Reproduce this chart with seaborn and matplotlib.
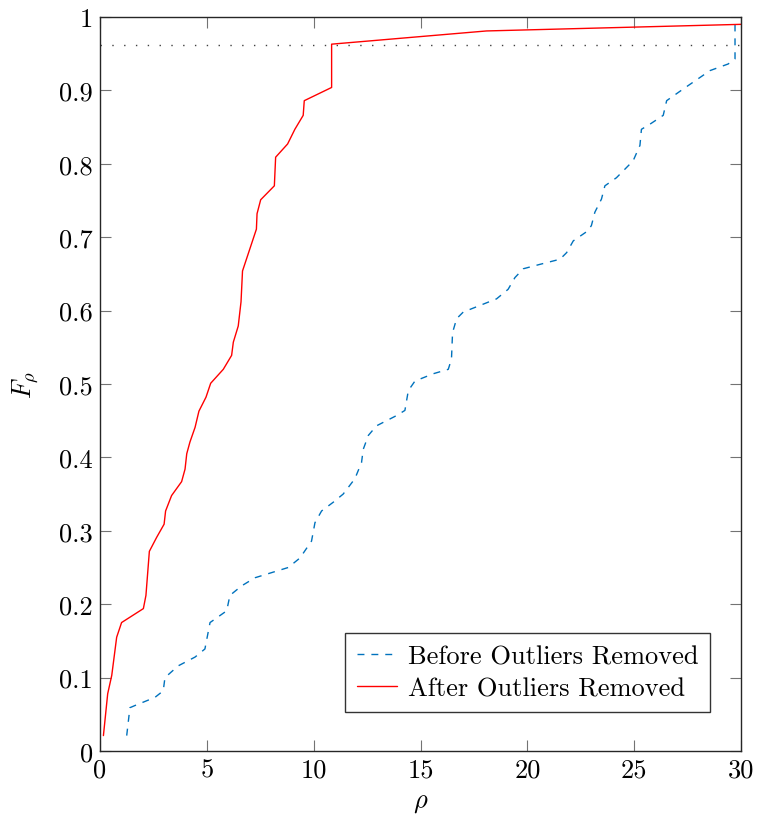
import matplotlib
matplotlib.use("Agg")
import matplotlib.pyplot as plt
import seaborn as sns
import pandas as pd

# ---- data ----
after_x = [0.16, 0.36, 0.55, 0.78, 1.01, 2.03, 2.15, 2.31, 2.65, 3.00, 3.07, 3.35, 3.82,
           3.98, 4.06, 4.21, 4.45, 4.63, 4.96, 5.18, 5.77, 6.16, 6.24, 6.47, 6.60, 6.67,
           7.32, 7.35, 7.52, 8.16, 8.22, 8.78, 9.12, 9.51, 9.56, 10.84, 10.84, 18.09, 30.0]
after_y = [0.021, 0.078, 0.103, 0.155, 0.175, 0.194, 0.212, 0.272, 0.291, 0.309, 0.327,
           0.348, 0.367, 0.384, 0.405, 0.421, 0.441, 0.463, 0.482, 0.501, 0.520, 0.539,
           0.557, 0.579, 0.612, 0.654, 0.711, 0.732, 0.751, 0.770, 0.809, 0.827, 0.847,
           0.866, 0.886, 0.904, 0.963, 0.981, 0.990]

before_x = [1.25, 1.40, 1.64, 2.57, 2.96, 3.04, 3.66, 4.45, 4.91, 5.15, 5.93, 6.08, 6.63,
            7.25, 8.81, 9.36, 9.90, 10.06, 10.37, 10.92, 11.38, 11.93, 12.24, 12.32, 12.56,
            12.94, 13.88, 14.27, 14.43, 14.74, 15.60, 16.30, 16.45, 16.50, 16.69, 17.0,
            17.78, 18.56, 19.10, 19.42, 19.81, 20.59, 21.53, 21.84, 22.15, 22.85, 23.0,
            23.16, 23.47, 23.63, 24.17, 24.95, 25.27, 25.34, 25.74, 26.36, 26.52, 27.30,
            28.55, 29.40, 29.72, 29.72]
before_y = [0.021, 0.059, 0.062, 0.073, 0.082, 0.100, 0.116, 0.128, 0.139, 0.175, 0.191,
            0.212, 0.225, 0.236, 0.250, 0.263, 0.286, 0.311, 0.327, 0.339, 0.350, 0.371,
            0.393, 0.411, 0.430, 0.443, 0.457, 0.464, 0.491, 0.504, 0.514, 0.520, 0.534,
            0.570, 0.589, 0.598, 0.607, 0.616, 0.629, 0.645, 0.657, 0.663, 0.670, 0.679,
            0.695, 0.709, 0.716, 0.734, 0.752, 0.770, 0.781, 0.804, 0.825, 0.847, 0.854,
            0.866, 0.886, 0.902, 0.927, 0.936, 0.943, 0.997]

threshold = 0.962

x_ticks = [0, 5, 10, 15, 20, 25, 30]
x_tick_labels = ["0", "5", "10", "15", "20", "25", "30"]
y_ticks = [0, 0.1, 0.2, 0.3, 0.4, 0.5, 0.6, 0.7, 0.8, 0.9, 1.0]
y_tick_labels = ["0", "0.1", "0.2", "0.3", "0.4", "0.5", "0.6", "0.7", "0.8", "0.9", "1"]

label_before = "Before Outliers Removed"
label_after = "After Outliers Removed"

# ---- style ----
sns.set_style("white")
plt.rcParams["font.family"] = ["cmr10", "DejaVu Serif"]
plt.rcParams["mathtext.fontset"] = "cm"
plt.rcParams["axes.unicode_minus"] = False
plt.rcParams["axes.formatter.use_mathtext"] = True
plt.rcParams["text.color"] = "black"
plt.rcParams["axes.labelcolor"] = "black"
plt.rcParams["xtick.labelcolor"] = "black"
plt.rcParams["ytick.labelcolor"] = "black"

FS = 19

fig = plt.figure(figsize=(7.59, 8.20), dpi=100)
ax = fig.add_axes([100 / 759, 1 - 752 / 820, 641 / 759, 734 / 820])

df_before = pd.DataFrame({"x": before_x, "y": before_y})
df_after = pd.DataFrame({"x": after_x, "y": after_y})

sns.lineplot(data=df_before, x="x", y="y", ax=ax, sort=False, estimator=None,
             color="#0072BD", linewidth=1.0, label=label_before)
ax.lines[-1].set_dashes([5, 5])
sns.lineplot(data=df_after, x="x", y="y", ax=ax, sort=False, estimator=None,
             color="#FF0000", linewidth=1.0, label=label_after)

ax.axhline(threshold, color="0.25", linewidth=1.0, dashes=(1, 7.5), zorder=1)

ax.set_xlim(0, 30)
ax.set_ylim(0, 1)
ax.set_xticks(x_ticks)
ax.set_xticklabels(x_tick_labels, fontsize=FS, color="black")
ax.set_yticks(y_ticks)
ax.set_yticklabels(y_tick_labels, fontsize=FS, color="black")
ax.tick_params(direction="in", length=8, width=0.8, color="0.45",
               top=True, right=True, bottom=True, left=True, pad=5)

ax.set_xlabel(r"$\rho$", fontsize=FS, labelpad=6, color="black")
ax.set_ylabel(r"$F_\rho$", fontsize=FS, labelpad=14, color="black")

for s in ax.spines.values():
    s.set_color("0.15")
    s.set_linewidth(1.0)
    s.set_visible(True)

leg = ax.legend(loc="lower right", bbox_to_anchor=(1 - 31 / 641, 39 / 734),
                fontsize=FS, frameon=True, fancybox=False, framealpha=1,
                edgecolor="0.2", handlelength=1.5, handletextpad=0.4,
                borderpad=0.45, labelspacing=0.3, borderaxespad=0)
leg.get_frame().set_linewidth(1.0)
for t in leg.get_texts():
    t.set_color("black")

fig.savefig("out.png", dpi=100)
